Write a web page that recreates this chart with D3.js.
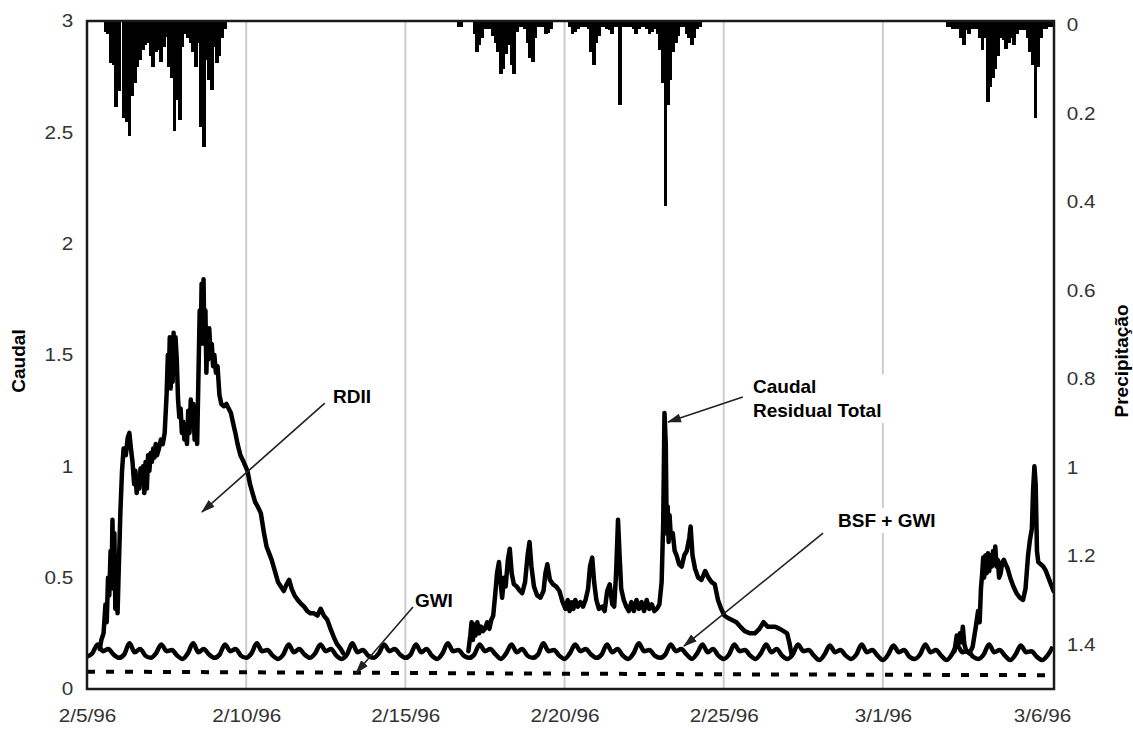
<!DOCTYPE html>
<html>
<head>
<meta charset="utf-8">
<script src="https://cdn.jsdelivr.net/npm/d3@7"></script>
<style>
  body { margin: 0; background: #fff; }
  text { font-family: "Liberation Sans", Arial, Helvetica, sans-serif; }
</style>
</head>
<body>
<div id="container"></div>
<script>
// ---- data ----
const T0 = Date.UTC(1996, 1, 5);
const HOUR = 3600e3, DAY = 24 * HOUR;

const xTickLabels = ["2/5/96", "2/10/96", "2/15/96", "2/20/96", "2/25/96", "3/1/96", "3/6/96"];
const caudalTicks = [0, 0.5, 1, 1.5, 2, 2.5, 3];
const precipTicks = [0, 0.2, 0.4, 0.6, 0.8, 1, 1.2, 1.4];

// BSF + GWI, every 4 hours from 2/5/96 00:00
const bsfGwi = [
  0.145, 0.16, 0.2, 0.17, 0.18, 0.155,
  0.14, 0.155, 0.205, 0.165, 0.18, 0.15,
  0.14, 0.16, 0.2, 0.17, 0.175, 0.15,
  0.135, 0.16, 0.205, 0.165, 0.18, 0.155,
  0.14, 0.155, 0.2, 0.17, 0.18, 0.15,
  0.14, 0.16, 0.205, 0.17, 0.175, 0.15,
  0.135, 0.155, 0.2, 0.165, 0.18, 0.155,
  0.14, 0.16, 0.2, 0.17, 0.18, 0.15,
  0.135, 0.155, 0.205, 0.165, 0.175, 0.15,
  0.14, 0.16, 0.2, 0.17, 0.18, 0.155,
  0.14, 0.155, 0.2, 0.165, 0.18, 0.15,
  0.135, 0.16, 0.205, 0.17, 0.175, 0.15,
  0.14, 0.155, 0.2, 0.17, 0.18, 0.155,
  0.135, 0.16, 0.2, 0.165, 0.18, 0.15,
  0.14, 0.155, 0.205, 0.17, 0.175, 0.15,
  0.135, 0.16, 0.2, 0.17, 0.18, 0.155,
  0.14, 0.155, 0.2, 0.165, 0.18, 0.15,
  0.135, 0.16, 0.205, 0.17, 0.175, 0.15,
  0.14, 0.155, 0.2, 0.17, 0.18, 0.155,
  0.135, 0.16, 0.2, 0.165, 0.18, 0.15,
  0.135, 0.155, 0.2, 0.17, 0.175, 0.15,
  0.135, 0.16, 0.2, 0.165, 0.18, 0.15,
  0.135, 0.155, 0.2, 0.17, 0.175, 0.15,
  0.13, 0.155, 0.195, 0.165, 0.175, 0.15,
  0.135, 0.155, 0.2, 0.165, 0.175, 0.15,
  0.13, 0.155, 0.195, 0.165, 0.175, 0.145,
  0.135, 0.155, 0.2, 0.165, 0.175, 0.15,
  0.13, 0.155, 0.195, 0.165, 0.17, 0.145,
  0.135, 0.155, 0.2, 0.165, 0.175, 0.15,
  0.13, 0.155, 0.195, 0.165, 0.17, 0.145,
  0.13, 0.15, 0.19
];

// GWI (dashed), [days since 2/5/96, value]
const gwiDays = [0, 5, 10, 15, 20, 25, 30.375];
const gwiFlow = [0.078, 0.075, 0.072, 0.069, 0.066, 0.064, 0.062];

// total residual flow during the wet periods, [days since 2/5/96, value]
const totalEvent1 = [
  [0.40, 0.18], [0.45, 0.22], [0.52, 0.25], [0.58, 0.38], [0.62, 0.30], [0.66, 0.50],
  [0.70, 0.42], [0.74, 0.62], [0.77, 0.48], [0.80, 0.76], [0.83, 0.45], [0.86, 0.70],
  [0.89, 0.36], [0.93, 0.55], [0.96, 0.34], [1.00, 0.55], [1.05, 0.80], [1.10, 0.98],
  [1.15, 1.08], [1.22, 1.05], [1.28, 1.13], [1.33, 1.15], [1.38, 1.08], [1.43, 1.02],
  [1.48, 0.92], [1.52, 0.98], [1.56, 0.88], [1.60, 0.95], [1.64, 0.90], [1.68, 0.99],
  [1.72, 0.92], [1.76, 1.00], [1.80, 0.88], [1.84, 1.02], [1.88, 0.90], [1.92, 1.05],
  [1.96, 0.98], [2.00, 1.06], [2.04, 1.02], [2.08, 1.08], [2.12, 1.04], [2.16, 1.10],
  [2.20, 1.05], [2.26, 1.08], [2.32, 1.12], [2.38, 1.10], [2.44, 1.15], [2.50, 1.32],
  [2.54, 1.50], [2.57, 1.40], [2.60, 1.58], [2.63, 1.35], [2.66, 1.55], [2.69, 1.38],
  [2.72, 1.60], [2.75, 1.42], [2.78, 1.58], [2.82, 1.48], [2.86, 1.30], [2.90, 1.22],
  [2.94, 1.26], [2.98, 1.15], [3.02, 1.20], [3.06, 1.12], [3.10, 1.18], [3.14, 1.10],
  [3.18, 1.25], [3.22, 1.15], [3.26, 1.30], [3.30, 1.18], [3.34, 1.28], [3.38, 1.12],
  [3.42, 1.22], [3.46, 1.10], [3.50, 1.40], [3.54, 1.70], [3.57, 1.55], [3.60, 1.82],
  [3.63, 1.62], [3.66, 1.84], [3.69, 1.55], [3.72, 1.70], [3.75, 1.42], [3.78, 1.58],
  [3.81, 1.48], [3.84, 1.62], [3.88, 1.50], [3.92, 1.55], [3.96, 1.45], [4.00, 1.50],
  [4.05, 1.42], [4.10, 1.45], [4.16, 1.32], [4.22, 1.28], [4.30, 1.27], [4.38, 1.28],
  [4.45, 1.26], [4.52, 1.24], [4.58, 1.20], [4.66, 1.15], [4.73, 1.10], [4.82, 1.05],
  [4.92, 1.02], [5.04, 0.98], [5.12, 0.92], [5.20, 0.88], [5.28, 0.84], [5.36, 0.82],
  [5.46, 0.79], [5.56, 0.70], [5.64, 0.64], [5.72, 0.61], [5.80, 0.58], [5.90, 0.53],
  [6.00, 0.48], [6.09, 0.46], [6.18, 0.44], [6.27, 0.47], [6.35, 0.49], [6.43, 0.45],
  [6.52, 0.42], [6.62, 0.40], [6.71, 0.385], [6.82, 0.37], [6.92, 0.35], [7.02, 0.34],
  [7.13, 0.34], [7.24, 0.33], [7.34, 0.36], [7.44, 0.33], [7.55, 0.31], [7.65, 0.27],
  [7.76, 0.23], [7.86, 0.20], [7.97, 0.18], [8.05, 0.16]
];
const totalEvent2 = [
  [11.98, 0.17], [12.04, 0.24], [12.08, 0.30], [12.12, 0.22], [12.16, 0.29], [12.20, 0.24],
  [12.26, 0.30], [12.32, 0.25], [12.38, 0.28], [12.44, 0.26], [12.50, 0.27], [12.57, 0.30],
  [12.64, 0.27], [12.70, 0.31], [12.76, 0.33], [12.82, 0.42], [12.88, 0.52], [12.94, 0.57],
  [12.99, 0.48], [13.04, 0.41], [13.10, 0.50], [13.15, 0.46], [13.22, 0.58], [13.28, 0.63],
  [13.34, 0.52], [13.41, 0.47], [13.50, 0.46], [13.60, 0.44], [13.67, 0.43], [13.76, 0.48],
  [13.84, 0.60], [13.90, 0.66], [13.96, 0.55], [14.04, 0.46], [14.14, 0.42], [14.24, 0.41],
  [14.34, 0.44], [14.40, 0.52], [14.46, 0.56], [14.54, 0.49], [14.64, 0.47], [14.74, 0.46],
  [14.84, 0.44], [14.94, 0.39], [15.03, 0.36], [15.10, 0.40], [15.16, 0.35], [15.22, 0.39],
  [15.28, 0.36], [15.34, 0.40], [15.42, 0.37], [15.50, 0.39], [15.58, 0.37], [15.66, 0.40],
  [15.74, 0.45], [15.80, 0.55], [15.87, 0.59], [15.93, 0.48], [16.00, 0.40], [16.08, 0.36],
  [16.18, 0.37], [16.26, 0.35], [16.34, 0.44], [16.42, 0.47], [16.50, 0.38], [16.56, 0.37],
  [16.62, 0.52], [16.68, 0.76], [16.73, 0.60], [16.78, 0.45], [16.86, 0.40], [16.94, 0.37],
  [17.02, 0.35], [17.10, 0.39], [17.18, 0.35], [17.26, 0.40], [17.34, 0.36], [17.42, 0.39],
  [17.50, 0.35], [17.58, 0.40], [17.66, 0.36], [17.74, 0.38], [17.82, 0.35], [17.90, 0.36],
  [17.98, 0.38], [18.05, 0.48], [18.10, 0.75], [18.14, 1.24], [18.18, 1.10], [18.21, 0.70],
  [18.24, 0.82], [18.27, 0.66], [18.30, 0.78], [18.34, 0.68], [18.40, 0.70], [18.46, 0.62],
  [18.52, 0.60], [18.60, 0.56], [18.68, 0.55], [18.76, 0.60], [18.84, 0.62], [18.92, 0.68],
  [18.96, 0.73], [19.02, 0.60], [19.10, 0.54], [19.20, 0.50], [19.30, 0.49], [19.42, 0.53],
  [19.52, 0.50], [19.62, 0.48], [19.72, 0.47], [19.82, 0.40], [19.92, 0.36], [20.02, 0.33],
  [20.12, 0.32], [20.26, 0.31], [20.40, 0.30], [20.52, 0.28], [20.66, 0.26], [20.83, 0.25],
  [20.98, 0.25], [21.12, 0.27], [21.25, 0.30], [21.38, 0.28], [21.50, 0.28], [21.62, 0.28],
  [21.76, 0.27], [21.88, 0.26], [21.99, 0.25], [22.06, 0.21], [22.14, 0.15]
];
const totalEvent3 = [
  [27.25, 0.17], [27.32, 0.24], [27.37, 0.20], [27.42, 0.25], [27.47, 0.21], [27.51, 0.28],
  [27.56, 0.20], [27.62, 0.17], [27.72, 0.16], [27.82, 0.19], [27.92, 0.28], [27.99, 0.35],
  [28.04, 0.30], [28.08, 0.45], [28.12, 0.52], [28.15, 0.59], [28.18, 0.50], [28.22, 0.60],
  [28.26, 0.52], [28.30, 0.61], [28.34, 0.53], [28.38, 0.60], [28.42, 0.55], [28.46, 0.62],
  [28.50, 0.56], [28.53, 0.64], [28.57, 0.55], [28.61, 0.58], [28.65, 0.50], [28.70, 0.52],
  [28.75, 0.57], [28.80, 0.58], [28.86, 0.56], [28.92, 0.54], [29.00, 0.50], [29.10, 0.46],
  [29.20, 0.43], [29.30, 0.41], [29.40, 0.40], [29.48, 0.45], [29.56, 0.60], [29.62, 0.67],
  [29.68, 0.72], [29.72, 0.90], [29.76, 1.00], [29.80, 0.92], [29.84, 0.62], [29.88, 0.57],
  [29.96, 0.56], [30.04, 0.55], [30.12, 0.53], [30.20, 0.50], [30.28, 0.47], [30.36, 0.44]
];

// precipitation, 2-hourly values for each storm
const rain1Start = "1996-02-05T13:00:00Z";
const rain1 = [
  0.015, 0.02, 0.085, 0.09, 0.185, 0.15, 0.0, 0.21, 0.22, 0.25, 0.16, 0.13,
  0.095, 0.08, 0.057, 0.045, 0.04, 0.07, 0.095, 0.06, 0.057, 0.083, 0.05, 0.027,
  0.095, 0.12, 0.24, 0.17, 0.215, 0.05, 0.02, 0.03, 0.04, 0.06, 0.095, 0.04,
  0.23, 0.276, 0.08, 0.125, 0.147, 0.05, 0.085, 0.07, 0.03, 0.01
];
const rain2Start = "1996-02-16T15:00:00Z";
const rain2 = [
  0.005, 0.005, 0, 0, 0, 0, 0.02, 0.06, 0.045, 0.03, 0.01, 0.008,
  0.01, 0.026, 0.04, 0.06, 0.11, 0.1, 0.065, 0.045, 0.09, 0.11, 0.015, 0.005,
  0.005, 0.008, 0.04, 0.075, 0.083, 0.03, 0.005, 0.005, 0.005, 0.02, 0.018, 0.008,
  0, 0, 0, 0, 0, 0, 0.005, 0.02, 0.015, 0.008, 0.005, 0.005,
  0.005, 0.01, 0.06, 0.09, 0.04, 0.025, 0.005, 0.005, 0.01, 0.012, 0.02, 0.005,
  0.005, 0.18, 0.005, 0.005, 0.005, 0.005, 0.01, 0.02, 0.008, 0.005, 0.005, 0.01,
  0.02, 0.015, 0.01, 0.02, 0.057, 0.13, 0.41, 0.18, 0.125, 0.06, 0.04, 0.025,
  0.005, 0.005, 0.02, 0.03, 0.045, 0.03, 0.01, 0.005
];
const rain3Start = "1996-03-03T00:00:00Z";
const rain3 = [
  0.005, 0.005, 0.008, 0.01, 0.01, 0.03, 0.045, 0.012, 0.02, 0.008, 0.008, 0.008,
  0.03, 0.057, 0.03, 0.175, 0.14, 0.12, 0.1, 0.07, 0.03, 0.035, 0.055, 0.04,
  0.03, 0.045, 0.02, 0.012, 0.012, 0.012, 0.03, 0.06, 0.09, 0.21, 0.095, 0.03,
  0.01, 0.008, 0.005, 0.005
];

// ---- layout ----
const width = 1133, height = 729;
const plot = { left: 87, right: 1054, top: 21, bottom: 689 };
const font = "Liberation Sans, Arial, Helvetica, sans-serif";
const dayToDate = d => new Date(T0 + d * DAY);

const x = d3.scaleUtc()
  .domain([dayToDate(0), dayToDate(30.375)])
  .range([plot.left, plot.right]);
const yQ = d3.scaleLinear().domain([0, 3]).range([plot.bottom, plot.top]);
const yP = d3.scaleLinear().domain([-0.009, 1.5]).range([plot.top, plot.bottom]);

const parseTick = d3.utcParse("%m/%d/%y");
const tickDates = xTickLabels.map(parseTick);

const svg = d3.select("#container").append("svg")
  .attr("width", width).attr("height", height);

svg.append("clipPath").attr("id", "plot-clip")
  .append("rect")
  .attr("x", plot.left).attr("y", plot.top)
  .attr("width", plot.right - plot.left).attr("height", plot.bottom - plot.top);

// vertical grid lines
svg.append("g").selectAll("line")
  .data(tickDates.slice(1, -1))
  .join("line")
  .attr("x1", d => x(d)).attr("x2", d => x(d))
  .attr("y1", plot.top).attr("y2", plot.bottom)
  .attr("stroke", "#cccccc").attr("stroke-width", 2);

const g = svg.append("g").attr("clip-path", "url(#plot-clip)");

// precipitation bars hanging from the top
const rainBars = [[rain1Start, rain1], [rain2Start, rain2], [rain3Start, rain3]]
  .flatMap(([start, vals]) => vals.map((v, i) => {
    const t = new Date(Date.parse(start) + i * 2 * HOUR);
    return { t0: t, t1: new Date(+t + 2 * HOUR), v };
  }))
  .filter(d => d.v > 0);

g.append("g")
  .attr("shape-rendering", "crispEdges")
  .selectAll("rect")
  .data(rainBars)
  .join("rect")
  .attr("x", d => Math.floor(x(d.t0)))
  .attr("width", d => Math.ceil(x(d.t1)) - Math.floor(x(d.t0)))
  .attr("y", plot.top)
  .attr("height", d => yP(d.v) - plot.top)
  .attr("fill", "#000");

// flow lines
const flowLine = d3.line().x(d => x(d[0])).y(d => yQ(d[1]));

g.append("path")
  .datum(gwiDays.map((d, i) => [dayToDate(d), gwiFlow[i]]))
  .attr("d", flowLine)
  .attr("fill", "none")
  .attr("stroke", "#000")
  .attr("stroke-width", 4)
  .attr("stroke-dasharray", "8 11");

g.append("path")
  .datum(bsfGwi.map((v, i) => [new Date(T0 + i * 4 * HOUR), v]))
  .attr("d", flowLine.curve(d3.curveMonotoneX))
  .attr("fill", "none")
  .attr("stroke", "#000")
  .attr("stroke-width", 4.5)
  .attr("stroke-linejoin", "round");

flowLine.curve(d3.curveLinear);
g.selectAll("path.total")
  .data([totalEvent1, totalEvent2, totalEvent3])
  .join("path")
  .attr("class", "total")
  .attr("d", ev => flowLine(ev.map(([d, v]) => [dayToDate(d), v])))
  .attr("fill", "none")
  .attr("stroke", "#000")
  .attr("stroke-width", 4.5)
  .attr("stroke-linejoin", "round")
  .attr("stroke-linecap", "round");

// annotations: label position, arrow start and arrow tip in [day, value]
const annotations = [
  { text: ["RDII"], at: [7.73, 1.284], from: [7.47, 1.284], to: [3.61, 0.795] },
  { text: ["GWI"], at: [10.30, 0.368], from: [10.24, 0.368], to: [8.45, 0.072] },
  { text: ["Caudal", "Residual Total"], at: [20.92, 1.329], from: [20.60, 1.311], to: [18.25, 1.199] },
  { text: ["BSF + GWI"], at: [23.59, 0.728], from: [23.12, 0.70], to: [18.75, 0.193] }
];

svg.append("defs").append("marker")
  .attr("id", "arrow")
  .attr("markerUnits", "userSpaceOnUse")
  .attr("viewBox", "0 -5 14 10")
  .attr("refX", 13).attr("refY", 0)
  .attr("markerWidth", 14).attr("markerHeight", 10)
  .attr("orient", "auto")
  .append("path")
  .attr("d", "M0,-4.5L14,0L0,4.5Z")
  .attr("fill", "#222");

const ann = svg.append("g");
annotations.forEach(a => {
  const t = ann.append("text")
    .attr("x", x(dayToDate(a.at[0])))
    .attr("y", yQ(a.at[1]))
    .attr("font-family", font)
    .attr("font-size", 19)
    .attr("font-weight", "bold")
    .attr("fill", "#000");
  a.text.forEach((s, i) => {
    t.append("tspan")
      .attr("x", x(dayToDate(a.at[0])))
      .attr("dy", i === 0 ? 0 : 24)
      .text(s);
  });
  const bb = t.node().getBBox();
  ann.insert("rect", () => t.node())
    .attr("x", bb.x - 3).attr("y", bb.y - 2)
    .attr("width", bb.width + 6).attr("height", bb.height + 4)
    .attr("fill", "#fff");
  ann.append("line")
    .attr("x1", x(dayToDate(a.from[0]))).attr("y1", yQ(a.from[1]))
    .attr("x2", x(dayToDate(a.to[0]))).attr("y2", yQ(a.to[1]))
    .attr("stroke", "#222")
    .attr("stroke-width", 1.6)
    .attr("marker-end", "url(#arrow)");
});

// axes
const styleTicks = (sel, dx) => {
  sel.select(".domain").remove();
  sel.attr("font-family", font).attr("font-size", 18);
  sel.selectAll("text").attr("fill", "#333").attr("transform", `scale(${dx},1)`);
};

svg.append("g")
  .attr("transform", `translate(${plot.left},0)`)
  .call(d3.axisLeft(yQ).tickValues(caudalTicks).tickSize(0).tickPadding(12)
    .tickFormat(d3.format("~g")))
  .call(sel => styleTicks(sel, 1.15));

svg.append("g")
  .attr("transform", `translate(${plot.right},0)`)
  .call(d3.axisRight(yP).tickValues(precipTicks).tickSize(0).tickPadding(11)
    .tickFormat(d3.format("~g")))
  .call(sel => styleTicks(sel, 1.15));

svg.append("g")
  .attr("transform", `translate(0,${plot.bottom})`)
  .call(d3.axisBottom(x).tickValues(tickDates).tickSize(0).tickPadding(20)
    .tickFormat(d3.utcFormat("%-m/%-d/%y")))
  .call(sel => styleTicks(sel, 1.15));

// axis titles
svg.append("text")
  .attr("transform", "translate(25,361) rotate(-90)")
  .attr("text-anchor", "middle")
  .attr("font-family", font).attr("font-size", 19).attr("font-weight", "bold")
  .text("Caudal");

svg.append("text")
  .attr("transform", "translate(1128,361) rotate(-90)")
  .attr("text-anchor", "middle")
  .attr("font-family", font).attr("font-size", 19).attr("font-weight", "bold")
  .text("Precipitação");

// frame
svg.append("rect")
  .attr("x", plot.left).attr("y", plot.top)
  .attr("width", plot.right - plot.left).attr("height", plot.bottom - plot.top)
  .attr("fill", "none")
  .attr("stroke", "#1a1a1a")
  .attr("stroke-width", 2.5);
</script>
</body>
</html>
